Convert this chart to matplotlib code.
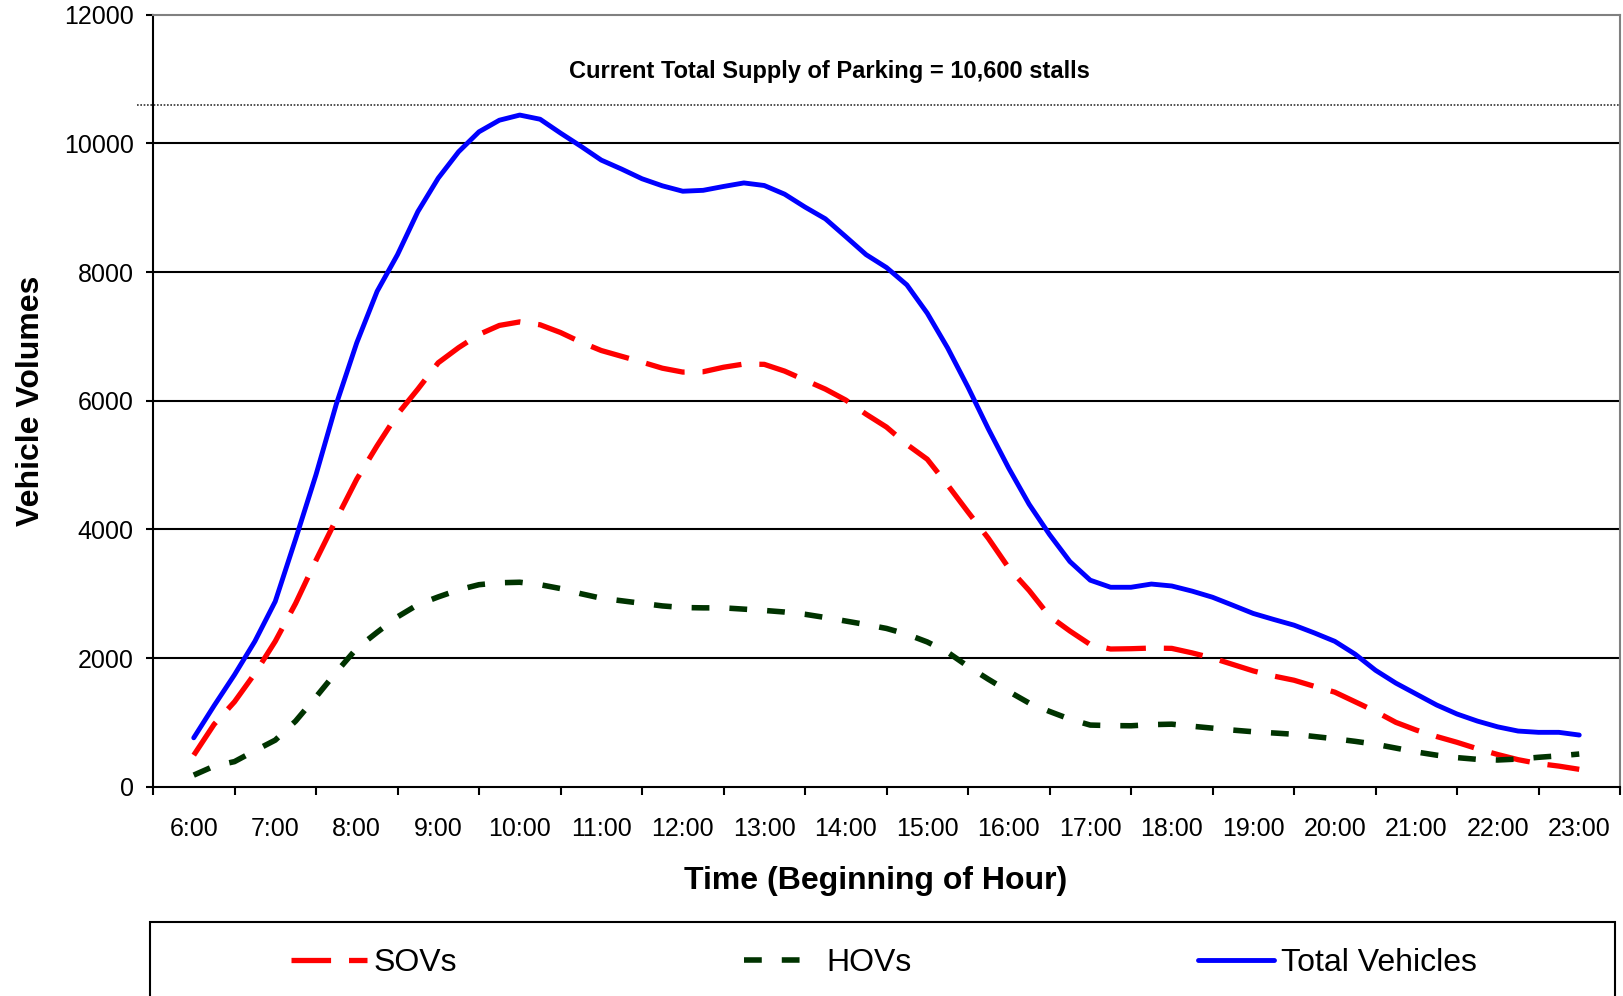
import matplotlib
matplotlib.use('Agg')
import matplotlib.pyplot as plt
from matplotlib.patches import Rectangle
from matplotlib.ticker import FixedLocator, NullFormatter

plt.rcParams['font.family'] = ['Liberation Sans', 'DejaVu Sans']

hours = ['6:00', '7:00', '8:00', '9:00', '10:00', '11:00', '12:00', '13:00', '14:00',
         '15:00', '16:00', '17:00', '18:00', '19:00', '20:00', '21:00', '22:00', '23:00']

# quarter-hour steps from 6:00 to 23:00, measured in hours after 6:00
t = [i * 0.25 for i in range(69)]

total = [760, 1260, 1740, 2260,
         2880, 3850, 4850, 5950,
         6900, 7700, 8270, 8940,
         9460, 9870, 10180, 10360,
         10440, 10375, 10160, 9955,
         9740, 9600, 9450, 9340,
         9256, 9270, 9330, 9385,
         9345, 9210, 9010, 8827,
         8550, 8270, 8070, 7800,
         7360, 6820, 6210, 5560,
         4950, 4390, 3920, 3500,
         3210, 3100, 3100, 3150,
         3120, 3040, 2945, 2820,
         2693, 2600, 2511, 2390,
         2260, 2060, 1810, 1610,
         1440, 1270, 1130, 1020,
         930, 865, 845, 845,
         803]
sovs = [490, 970, 1320, 1760,
        2260, 2850, 3520, 4160,
        4780, 5300, 5790, 6180,
        6590, 6825, 7030, 7170,
        7225, 7180, 7060, 6910,
        6780, 6690, 6600, 6505,
        6445, 6450, 6520, 6570,
        6565, 6460, 6320, 6180,
        6010, 5790, 5590, 5320,
        5090, 4690, 4270, 3860,
        3400, 3050, 2650, 2420,
        2210, 2140, 2145, 2155,
        2150, 2080, 2000, 1900,
        1800, 1720, 1655, 1560,
        1470, 1320, 1170, 1000,
        880, 780, 690, 590,
        500, 420, 360, 320,
        270]
hovs = [180, 320, 390, 560,
        724, 1020, 1395, 1783,
        2150, 2400, 2640, 2830,
        2950, 3060, 3140, 3170,
        3178, 3140, 3080, 3000,
        2930, 2890, 2850, 2810,
        2785, 2780, 2780, 2760,
        2740, 2715, 2680, 2630,
        2575, 2520, 2460, 2370,
        2250, 2090, 1870, 1670,
        1480, 1300, 1170, 1050,
        958, 950, 947, 965,
        972, 940, 910, 880,
        854, 835, 815, 780,
        745, 705, 660, 600,
        540, 490, 452, 425,
        415, 430, 457, 480,
        508]

supply = 10600

fig = plt.figure(figsize=(16.23, 9.96), dpi=100)
ax = fig.add_axes([153 / 1623, 1 - 786.7 / 996, 1467 / 1623, 772 / 996])

for y in range(2000, 12000, 2000):
    ax.axhline(y, color='black', lw=1.5, zorder=1)
ax.axhline(supply, xmin=-0.011, xmax=1, color='#333333', lw=1.2,
           linestyle=(0, (1, 1)), clip_on=False, zorder=1)

l_sov, = ax.plot(t, sovs, color='#ff0000', lw=3.8, linestyle=(0, (7.5, 3.4)),
                 dash_capstyle='butt', label='SOVs', zorder=3)
l_hov, = ax.plot(t, hovs, color='#003300', lw=4, linestyle=(0, (3.2, 3.6)),
                 dash_capstyle='butt', label='HOVs', zorder=3)
l_tot, = ax.plot(t, total, color='#0000ff', lw=3.5, solid_capstyle='round',
                 solid_joinstyle='round', label='Total Vehicles', zorder=4)

ax.set_xlim(-0.5, 17.5)
ax.set_ylim(0, 12000)
ax.set_yticks(range(0, 12001, 2000))
ax.tick_params(axis='y', labelsize=18, length=5, width=1.5, pad=9, direction='out')

# tick marks sit between hours, labels sit at the hour centres
ax.xaxis.set_major_locator(FixedLocator([i - 0.5 for i in range(19)]))
ax.xaxis.set_major_formatter(NullFormatter())
ax.xaxis.set_minor_locator(FixedLocator(range(18)))
ax.set_xticklabels(hours, minor=True)
ax.tick_params(axis='x', which='major', length=6, width=1.5, direction='out')
ax.tick_params(axis='x', which='minor', length=0, labelsize=18, pad=22)

for side in ['left', 'bottom']:
    ax.spines[side].set_color('black')
    ax.spines[side].set_linewidth(1.5)
for side in ['top', 'right']:
    ax.spines[side].set_color('#808080')
    ax.spines[side].set_linewidth(1.5)

ax.set_xlabel('Time (Beginning of Hour)', fontsize=23, fontweight='bold', labelpad=18)
ax.xaxis.label.set_x(0.4926)
ax.set_ylabel('Vehicle Volumes', fontsize=23, fontweight='bold', labelpad=13)

ax.text(7.8, 11120, 'Current Total Supply of Parking = 10,600 stalls',
        fontsize=17, fontweight='bold', ha='center', va='center')

fig.add_artist(Rectangle((150 / 1623, -0.05), 1465 / 1623, (996 - 922) / 996 + 0.05,
                         transform=fig.transFigure, fill=False,
                         edgecolor='black', lw=1.5))
fig.legend([l_sov, l_hov, l_tot], ['SOVs', 'HOVs', 'Total Vehicles'],
           loc='center', bbox_to_anchor=(884 / 1623, 1 - 963 / 996), ncol=3,
           frameon=False, fontsize=23, handlelength=2.37, handletextpad=0.23,
           columnspacing=8.96)

fig.savefig('out.png', dpi=100)
